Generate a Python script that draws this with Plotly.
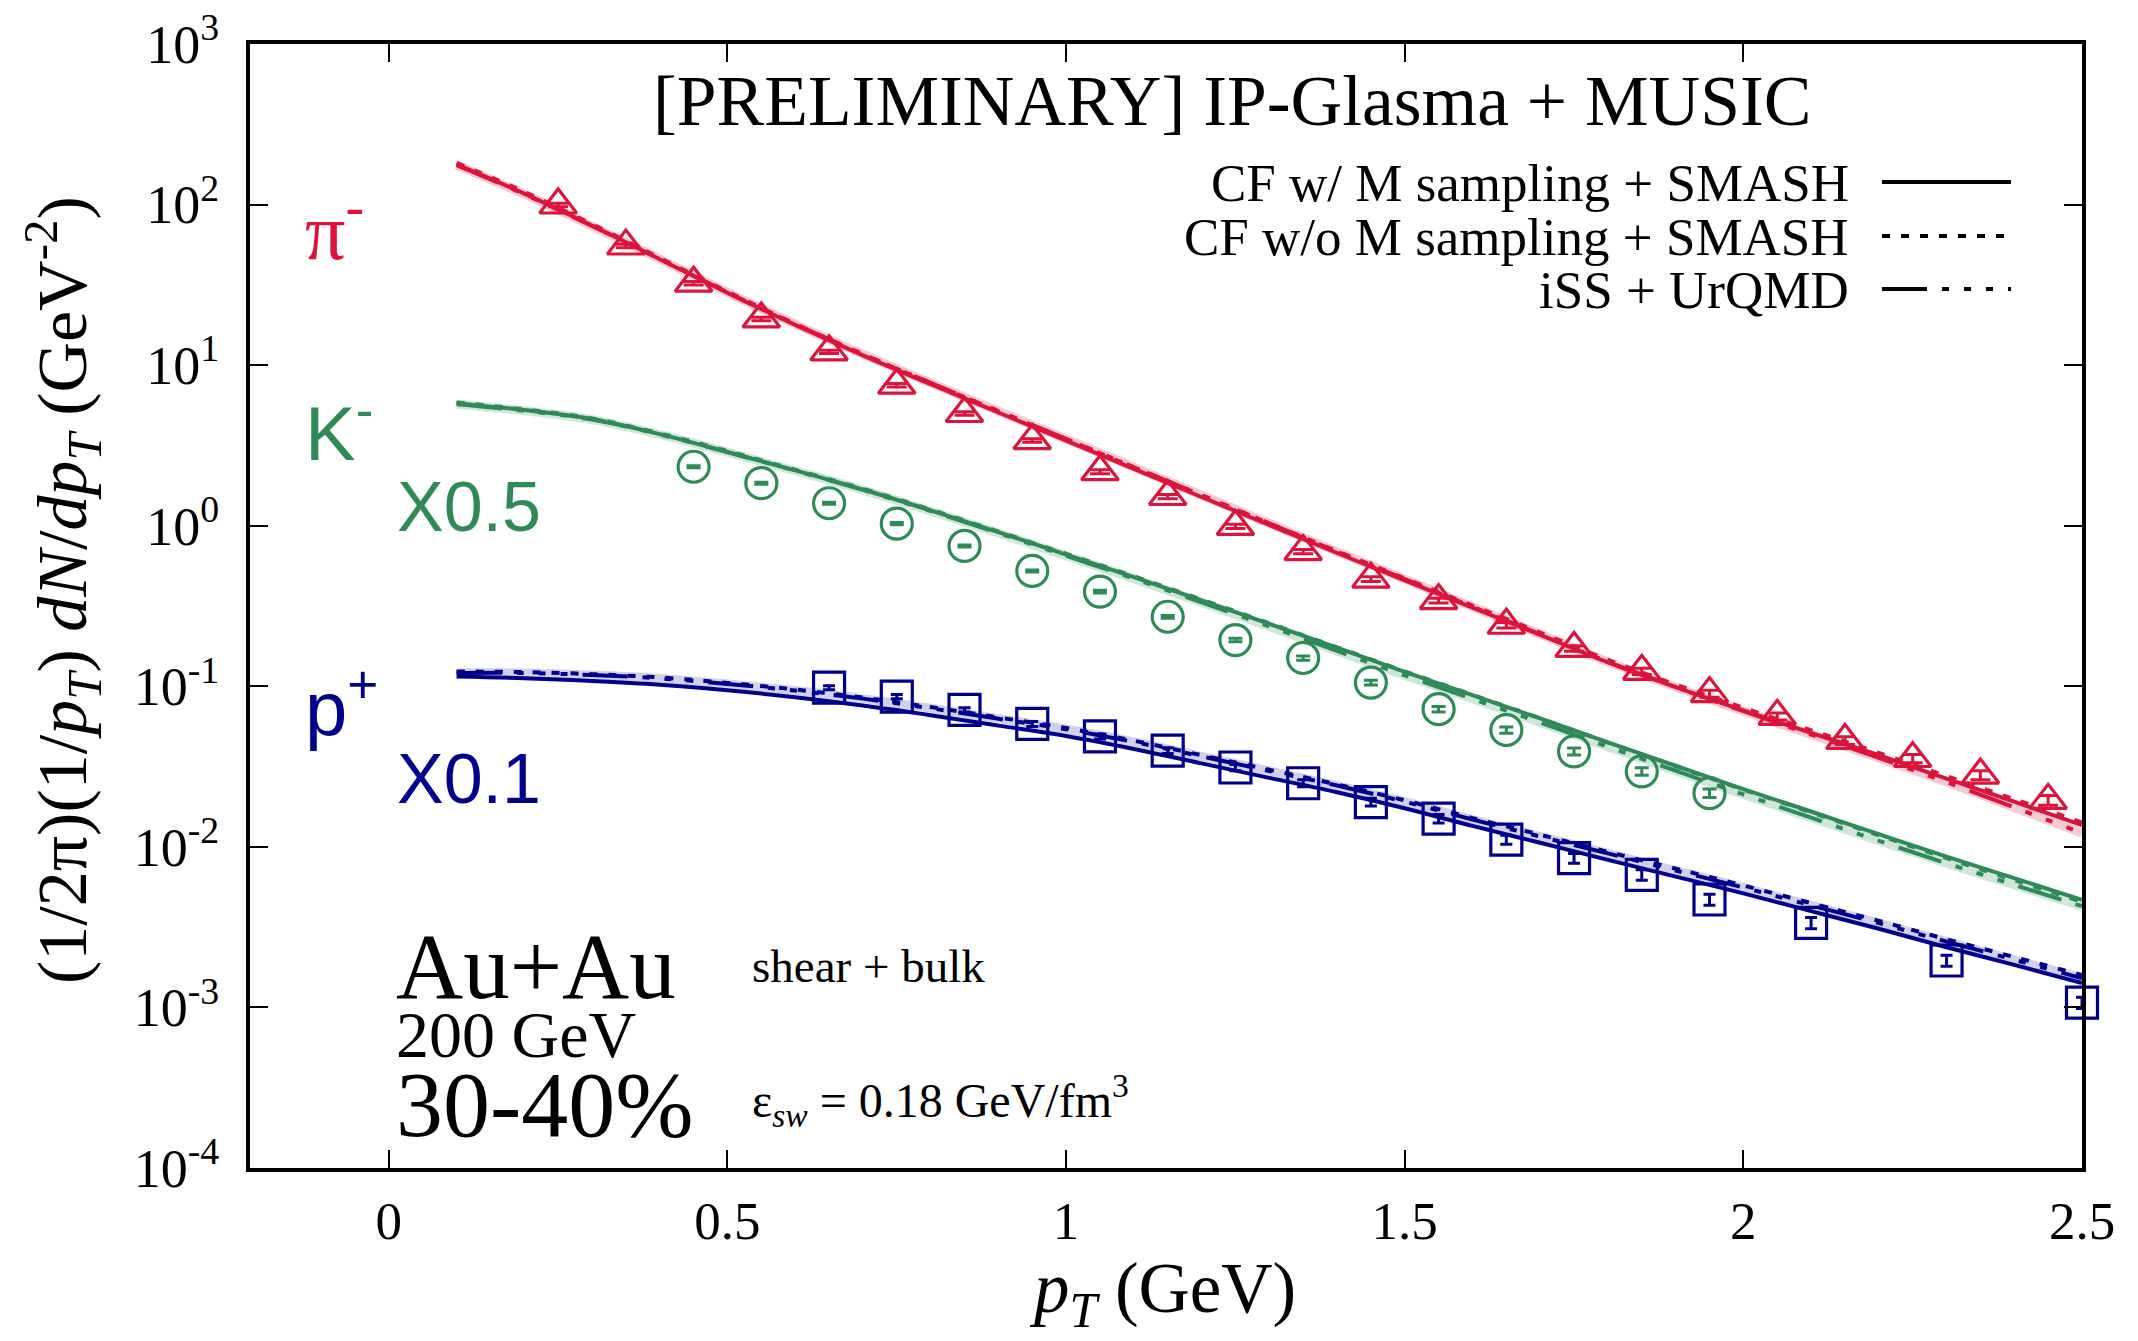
import plotly.graph_objects as go

# ---------------- data ----------------
pt_model = [0.1, 0.2, 0.3, 0.4, 0.5, 0.6, 0.7, 0.8, 0.9, 1.0, 1.1, 1.2, 1.3,
            1.4, 1.5, 1.6, 1.7, 1.8, 1.9, 2.0, 2.1, 2.2, 2.3, 2.4, 2.5]

pi_cf_w = [178, 117, 74, 45.7, 28.2, 17.8, 11.5, 7.6, 5.07, 3.39, 2.26, 1.51, 1.01,
           0.676, 0.457, 0.309, 0.209, 0.141, 0.0989, 0.0708, 0.0513, 0.0372, 0.0266, 0.0191, 0.01365]
pi_cf_wo = [182, 120, 75.5, 46.5, 28.7, 18.1, 11.7, 7.75, 5.17, 3.46, 2.31, 1.55, 1.035,
            0.695, 0.47, 0.318, 0.216, 0.146, 0.1025, 0.0735, 0.0532, 0.0385, 0.0276, 0.0198, 0.0142]
pi_iss = [176, 116, 73.5, 45.8, 28.4, 18.0, 11.7, 7.75, 5.18, 3.47, 2.32, 1.55, 1.035,
          0.69, 0.465, 0.313, 0.211, 0.142, 0.0990, 0.0700, 0.0500, 0.0358, 0.0253, 0.0176, 0.0122]

k_cf_w = [5.8, 5.25, 4.62, 3.72, 2.88, 2.21, 1.68, 1.245, 0.912, 0.661, 0.479, 0.343, 0.245,
          0.174, 0.123, 0.0881, 0.0631, 0.0447, 0.0320, 0.0229, 0.0166, 0.0120, 0.0087, 0.00638, 0.00468]
k_cf_wo = [5.85, 5.3, 4.66, 3.76, 2.92, 2.23, 1.70, 1.26, 0.92, 0.668, 0.484, 0.347, 0.247,
           0.175, 0.124, 0.0885, 0.0632, 0.0446, 0.0318, 0.0227, 0.0164, 0.0118, 0.0085, 0.0062, 0.00455]
k_iss = [5.7, 5.2, 4.58, 3.70, 2.87, 2.20, 1.67, 1.235, 0.90, 0.650, 0.468, 0.333, 0.236,
         0.166, 0.117, 0.0835, 0.0595, 0.0420, 0.0298, 0.0212, 0.0152, 0.0109, 0.0079, 0.0058, 0.00427]

p_cf_w = [0.115, 0.1122, 0.1079, 0.1023, 0.0944, 0.0855, 0.0759, 0.0661, 0.0569, 0.0490, 0.0407, 0.0331, 0.0269,
          0.0219, 0.0174, 0.0135, 0.0106, 0.0083, 0.00653, 0.00513, 0.00398, 0.00309, 0.00237, 0.00184, 0.00142]
p_cf_wo = [0.1236, 0.1225, 0.119, 0.1135, 0.1050, 0.0955, 0.0850, 0.0742, 0.0640, 0.0550, 0.0458, 0.0372, 0.0302,
           0.0245, 0.0195, 0.0151, 0.0119, 0.0093, 0.00732, 0.00575, 0.00446, 0.00346, 0.00266, 0.00206, 0.00159]
p_iss = [0.121, 0.121, 0.1175, 0.112, 0.1035, 0.0940, 0.0838, 0.0730, 0.0628, 0.0540, 0.0450, 0.0366, 0.0297,
         0.0241, 0.0191, 0.0148, 0.0116, 0.0091, 0.00712, 0.00558, 0.00432, 0.00335, 0.00257, 0.00198, 0.00152]

pi_pt = [0.25, 0.35, 0.45, 0.55, 0.65, 0.75, 0.85, 0.95, 1.05, 1.15, 1.25, 1.35,
         1.45, 1.55, 1.65, 1.75, 1.85, 1.95, 2.05, 2.15, 2.25, 2.35, 2.45]
pi_data = [99.4, 55.2, 32.4, 19.4, 12.1, 7.5, 5.0, 3.39, 2.17, 1.52, 0.99, 0.69,
           0.465, 0.342, 0.24, 0.172, 0.124, 0.09, 0.065, 0.046, 0.0355, 0.028, 0.0195]
pi_relerr = [0.025, 0.025, 0.025, 0.025, 0.025, 0.025, 0.025, 0.025, 0.03, 0.03, 0.03, 0.03,
             0.035, 0.035, 0.04, 0.04, 0.045, 0.05, 0.05, 0.055, 0.06, 0.065, 0.07]

k_pt = [0.45, 0.55, 0.65, 0.75, 0.85, 0.95, 1.05, 1.15, 1.25, 1.35, 1.45, 1.55, 1.65, 1.75, 1.85, 1.95]
k_data = [2.33, 1.84, 1.38, 1.03, 0.748, 0.523, 0.389, 0.271, 0.194, 0.150, 0.1055, 0.072,
          0.0534, 0.0393, 0.0295, 0.0216]
k_relerr = [0.015, 0.015, 0.015, 0.015, 0.015, 0.015, 0.02, 0.02, 0.025, 0.03, 0.035, 0.04,
            0.045, 0.05, 0.055, 0.06]

p_pt = [0.65, 0.75, 0.85, 0.95, 1.05, 1.15, 1.25, 1.35, 1.45, 1.55, 1.65, 1.75, 1.85, 1.95, 2.1, 2.3, 2.5]
p_data = [0.098, 0.0863, 0.0713, 0.0583, 0.0487, 0.0398, 0.0312, 0.0249, 0.019, 0.0150, 0.0111,
          0.0085, 0.0067, 0.0047, 0.00336, 0.00196, 0.00107]
p_relerr = [0.03, 0.03, 0.03, 0.035, 0.035, 0.04, 0.045, 0.05, 0.055, 0.06, 0.065, 0.07,
            0.075, 0.08, 0.08, 0.08, 0.08]

x_ticks = [0, 0.5, 1, 1.5, 2, 2.5]
x_ticktext = ["0", "0.5", "1", "1.5", "2", "2.5"]
y_exps = [-4, -3, -2, -1, 0, 1, 2, 3]

legend_labels = ["CF w/ M sampling + SMASH", "CF w/o M sampling + SMASH", "iSS + UrQMD"]

# ---------------- style ----------------
RED = "#DC143C"
GREEN = "#2E8B57"
BLUE = "#00008B"
PALE = {RED: "rgba(220,20,60,0.22)", GREEN: "rgba(46,139,87,0.22)", BLUE: "rgba(0,0,139,0.18)"}
DOT = "8px,11px"
DASHDOT = "45px,15px,7px,15px,7px,15px,7px,15px"
SERIF = "Liberation Serif"
SANS = "Liberation Sans"

W, H = 2138, 1341
L, R, T, B = 250, 56, 44, 173
PW, PH = W - L - R, H - T - B


def px(x):
    return (x - L) / PW


def py(y):
    return (H - B - y) / PH


fig = go.Figure()

species = [
    (pi_cf_w, pi_cf_wo, pi_iss, pi_pt, pi_data, pi_relerr, RED, "triangle-up-open", 32, 10),
    (k_cf_w, k_cf_wo, k_iss, k_pt, k_data, k_relerr, GREEN, "circle-open", 31, 7),
    (p_cf_w, p_cf_wo, p_iss, p_pt, p_data, p_relerr, BLUE, "square-open", 31, 6),
]

for cfw, cfwo, iss, dpt, dy, rel, col, sym, msize, capw in species:
    fig.add_trace(go.Scatter(x=pt_model, y=iss, mode="lines", line=dict(color=PALE[col], width=9, shape="spline"),
                             showlegend=False, hoverinfo="skip"))
    fig.add_trace(go.Scatter(x=pt_model, y=cfw, mode="lines", line=dict(color=col, width=4, shape="spline"),
                             showlegend=False))
    fig.add_trace(go.Scatter(x=pt_model, y=cfwo, mode="lines",
                             line=dict(color=col, width=4, dash=DOT, shape="spline"), showlegend=False))
    fig.add_trace(go.Scatter(x=pt_model, y=iss, mode="lines",
                             line=dict(color=col, width=4, dash=DASHDOT, shape="spline"), showlegend=False))
    err = [v * e for v, e in zip(dy, rel)]
    fig.add_trace(go.Scatter(x=dpt, y=dy, mode="markers",
                             marker=dict(symbol=sym, size=msize, color=col, line=dict(color=col, width=3.2)),
                             error_y=dict(type="data", array=err, visible=True, color=col, thickness=3, width=capw),
                             cliponaxis=False, showlegend=False))

# legend drawn manually (text left of sample line)
leg_y = [182, 236, 289]
leg_dash = ["solid", DOT, DASHDOT]
annotations = []
for lab, yy in zip(legend_labels, leg_y):
    annotations.append(dict(x=px(1851), y=py(yy + 1), xref="paper", yref="paper", text=lab, showarrow=False,
                            xanchor="right", yanchor="middle", font=dict(family=SERIF, size=53, color="black")))
shapes = []
for dsh, yy in zip(leg_dash, leg_y):
    shapes.append(dict(type="line", xref="paper", yref="paper", x0=px(1882), x1=px(2011), y0=py(yy), y1=py(yy),
                       line=dict(color="black", width=4, dash=dsh)))

# title
annotations.append(dict(x=px(1232), y=py(101), xref="paper", yref="paper",
                        text="[PRELIMINARY] IP-Glasma + MUSIC", showarrow=False,
                        xanchor="center", yanchor="middle", font=dict(family=SERIF, size=71.5, color="black")))

# species labels
annotations += [
    dict(x=px(303), y=py(226), text="π<sup>-</sup>", font=dict(family=SERIF, size=80, color=RED)),
    dict(x=px(303), y=py(428), text="K<sup>-</sup>", font=dict(family=SANS, size=76, color=GREEN)),
    dict(x=px(395), y=py(507), text="X0.5", font=dict(family=SANS, size=70, color=GREEN)),
    dict(x=px(303), y=py(703), text="p<sup>+</sup>", font=dict(family=SANS, size=76, color=BLUE)),
    dict(x=px(395), y=py(779), text="X0.1", font=dict(family=SANS, size=70, color=BLUE)),
]
# system labels
annotations += [
    dict(x=px(394), y=py(966), text="Au+Au", font=dict(family=SERIF, size=93, color="black")),
    dict(x=px(394), y=py(1034), text="200 GeV", font=dict(family=SERIF, size=66, color="black")),
    dict(x=px(394), y=py(1104), text="30-40%", font=dict(family=SERIF, size=94, color="black")),
    dict(x=px(750), y=py(966), text="shear + bulk", font=dict(family=SERIF, size=47, color="black")),
    dict(x=px(750), y=py(1100), text="ε<sub><i>sw</i></sub> = 0.18 GeV/fm<sup>3</sup>",
         font=dict(family=SERIF, size=48, color="black")),
]
for a in annotations[-10:]:
    a.update(xref="paper", yref="paper", showarrow=False, xanchor="left", yanchor="middle")

# axis titles
annotations.append(dict(x=px(62), y=py(590), xref="paper", yref="paper", textangle=-90, showarrow=False,
                        text="(1/2π)(1/<i>p<sub>T</sub></i>) <i>dN</i>/<i>dp<sub>T</sub></i> (GeV<sup>-2</sup>)",
                        xanchor="center", yanchor="middle", font=dict(family=SERIF, size=70, color="black")))
annotations.append(dict(x=px(1162), y=py(1293), xref="paper", yref="paper", showarrow=False,
                        text="<i>p<sub>T</sub></i> (GeV)", xanchor="center", yanchor="middle",
                        font=dict(family=SERIF, size=71, color="black")))

fig.update_layout(
    width=W, height=H, autosize=False,
    margin=dict(l=L, r=R, t=T, b=B, pad=0),
    paper_bgcolor="white", plot_bgcolor="white",
    showlegend=False,
    annotations=annotations, shapes=shapes,
    xaxis=dict(range=[-0.205, 2.5], tickvals=x_ticks, ticktext=x_ticktext,
               ticks="inside", ticklen=18, tickwidth=2, tickcolor="black",
               showline=True, linewidth=4, linecolor="black", mirror="ticks",
               showgrid=False, zeroline=False, automargin=False,
               tickfont=dict(family=SERIF, size=53, color="black"), ticklabelstandoff=3),
    yaxis=dict(type="log", range=[-4, 3], tickvals=[10.0 ** e for e in y_exps],
               ticktext=["10<sup>%d</sup>" % e for e in y_exps],
               ticks="inside", ticklen=18, tickwidth=2, tickcolor="black",
               showline=True, linewidth=4, linecolor="black", mirror="ticks",
               showgrid=False, zeroline=False, automargin=False,
               tickfont=dict(family=SERIF, size=54, color="black"), ticklabelstandoff=16),
)

fig.write_html("out.html")
